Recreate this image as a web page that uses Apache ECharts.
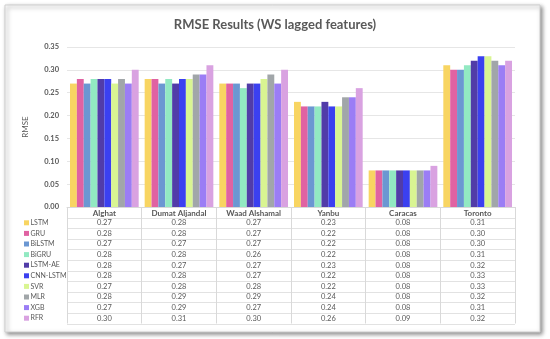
<!DOCTYPE html>
<html>
<head>
<meta charset="utf-8">
<script src="https://cdn.jsdelivr.net/npm/echarts@6/dist/echarts.min.js"></script>
<style>
html,body{margin:0;padding:0;background:#fff;}
#c{width:550px;height:339px;}
</style>
</head>
<body>
<div id="c"></div>
<script>
const categories = ['Alghat', 'Dumat Aljandal', 'Waad Alshamal', 'Yanbu', 'Caracas', 'Toronto'];
const seriesNames = ['LSTM', 'GRU', 'BiLSTM', 'BiGRU', 'LSTM-AE', 'CNN-LSTM', 'SVR', 'MLR', 'XGB', 'RFR'];
const LSTM     = [0.27, 0.28, 0.27, 0.23, 0.08, 0.31];
const GRU      = [0.28, 0.28, 0.27, 0.22, 0.08, 0.30];
const BiLSTM   = [0.27, 0.27, 0.27, 0.22, 0.08, 0.30];
const BiGRU    = [0.28, 0.28, 0.26, 0.22, 0.08, 0.31];
const LSTM_AE  = [0.28, 0.27, 0.27, 0.23, 0.08, 0.32];
const CNN_LSTM = [0.28, 0.28, 0.27, 0.22, 0.08, 0.33];
const SVR      = [0.27, 0.28, 0.28, 0.22, 0.08, 0.33];
const MLR      = [0.28, 0.29, 0.29, 0.24, 0.08, 0.32];
const XGB      = [0.27, 0.29, 0.27, 0.24, 0.08, 0.31];
const RFR      = [0.30, 0.31, 0.30, 0.26, 0.09, 0.32];
const seriesValues = [LSTM, GRU, BiLSTM, BiGRU, LSTM_AE, CNN_LSTM, SVR, MLR, XGB, RFR];
const colors = ['#f8d562', '#e062a2', '#6b97d2', '#92e9c2', '#513ca8', '#3b40f0', '#d9f592', '#a1a6a9', '#9b7df5', '#d9a2e1'];

const FONT = 'Lato, "Liberation Sans", sans-serif';
const TXT = '#595959';
const chart = echarts.init(document.getElementById('c'), null, {renderer: 'canvas'});

const gridTop = 47, gridBottomY = 207;
const rowH = 10.6, headerH = 10.5, nRows = seriesNames.length;
const tableBottom = gridBottomY + headerH + rowH * nRows;

chart.setOption({
  animation: false,
  backgroundColor: '#fff',
  textStyle: {fontFamily: FONT},
  title: {
    text: 'RMSE Results (WS lagged features)',
    left: 'center', top: 13,
    textStyle: {fontFamily: FONT, fontSize: 13, fontWeight: 'bold', color: TXT}
  },
  grid: {left: 67, right: 35, top: gridTop, bottom: 339 - gridBottomY, containLabel: false},
  xAxis: {
    type: 'category',
    data: categories,
    axisLine: {lineStyle: {color: '#d9d9d9'}},
    axisTick: {show: true, length: tableBottom - gridBottomY, lineStyle: {color: '#d9d9d9'}},
    axisLabel: {margin: 2, fontSize: 8, fontWeight: 'bold', color: TXT, fontFamily: FONT, interval: 0}
  },
  yAxis: {
    type: 'value', min: 0, max: 0.35, interval: 0.05,
    name: 'RMSE', nameLocation: 'middle', nameGap: 38, nameRotate: 90,
    nameTextStyle: {fontSize: 8, color: TXT, fontFamily: FONT},
    axisLine: {show: false}, axisTick: {show: false},
    axisLabel: {fontSize: 7.5, color: TXT, fontWeight: 'bold', fontFamily: FONT, margin: 8,
      formatter: v => v.toFixed(2)},
    splitLine: {lineStyle: {color: '#e6e6e6'}}
  },
  series: seriesNames.map((n, i) => ({
    name: n, type: 'bar', data: seriesValues[i],
    itemStyle: {color: colors[i]},
    barGap: '0%', barCategoryGap: '8%'
  }))
});

// Build data table below the axis
const els = [];
els.push({
  type: 'rect', z: -10, silent: true,
  shape: {x: 5, y: 5, width: 535, height: 327},
  style: {fill: '#fff', stroke: '#cfcfcf', lineWidth: 1,
    shadowBlur: 4, shadowOffsetX: 2, shadowOffsetY: 2, shadowColor: 'rgba(0,0,0,0.45)'}
});
const leftX = 67, rightX = 515;
for (let r = 0; r <= nRows; r++) {
  const y = Math.round(gridBottomY + headerH + r * rowH) + 0.5;
  els.push({type: 'line', silent: true, shape: {x1: leftX, y1: y, x2: rightX, y2: y},
    style: {stroke: '#e2e2e2', lineWidth: 1}});
}
for (let r = 0; r < nRows; r++) {
  const cy = gridBottomY + headerH + r * rowH + rowH / 2;
  els.push({type: 'rect', silent: true, shape: {x: 24, y: cy - 2.5, width: 5, height: 5},
    style: {fill: colors[r]}});
  els.push({type: 'text', silent: true, x: 30.5, y: cy,
    style: {text: seriesNames[r], fontSize: 7, fontFamily: FONT, fill: TXT, verticalAlign: 'middle'}});
  categories.forEach((c, ci) => {
    const px = chart.convertToPixel({xAxisIndex: 0}, c);
    els.push({type: 'text', silent: true, x: px, y: cy,
      style: {text: seriesValues[r][ci].toFixed(2), fontSize: 7.5, fontFamily: FONT, fill: TXT,
        align: 'center', verticalAlign: 'middle'}});
  });
}
chart.setOption({graphic: {elements: els}});
</script>
</body>
</html>
